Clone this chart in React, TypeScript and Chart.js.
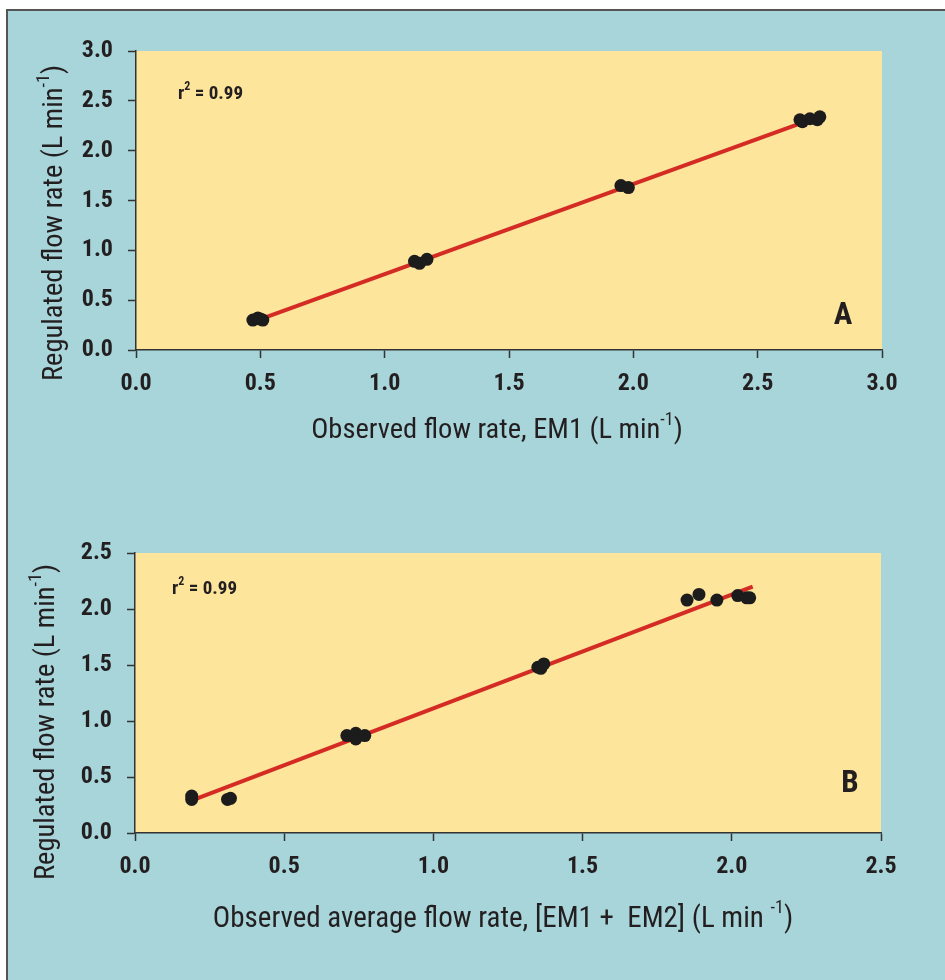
import React, { useEffect, useRef } from "react";
import { Chart, registerables } from "chart.js";

Chart.register(...registerables);

// ---------- data ----------
const obsA = [0.47, 0.49, 0.5, 0.51, 1.12, 1.14, 1.17, 1.95, 1.98, 2.67, 2.68, 2.71, 2.74, 2.75];
const regA = [0.3, 0.32, 0.31, 0.3, 0.89, 0.87, 0.91, 1.65, 1.63, 2.31, 2.29, 2.32, 2.31, 2.34];
const fitAx = [0.49, 2.7];
const fitAy = [0.3, 2.3];

const obsB = [0.19, 0.19, 0.31, 0.32, 0.71, 0.74, 0.74, 0.77, 1.35, 1.36, 1.37, 1.85, 1.89, 1.95, 2.02, 2.05, 2.06];
const regB = [0.33, 0.3, 0.3, 0.31, 0.87, 0.89, 0.84, 0.87, 1.48, 1.47, 1.51, 2.08, 2.13, 2.08, 2.12, 2.1, 2.1];
const fitBx = [0.2, 2.07];
const fitBy = [0.3, 2.2];

const axisMaxA = 3.0;
const axisMaxB = 2.5;
const tickStep = 0.5;

const r2A = "0.99";
const r2B = "0.99";

// ---------- style ----------
const FONT = '"Liberation Sans Narrow", "Roboto Condensed", "DejaVu Sans Condensed", "Arial Narrow", "Liberation Sans", sans-serif';
const TEXT = "#231f20";
const PLOT_BG = "#fde59b";
const PANEL_BG = "#a7d5da";
const LINE_RED = "#d42b25";

type Seg = { t: string; sup?: boolean };
type Item = {
  segs: Seg[];
  x: number;
  y: number;
  size: number;
  bold?: boolean;
  rotate?: boolean;
  align?: "left" | "center";
};

function drawRich(ctx: CanvasRenderingContext2D, it: Item) {
  const weight = it.bold ? "bold " : "";
  const big = `${weight}${it.size}px ${FONT}`;
  const small = `${weight}${Math.round(it.size * 0.62)}px ${FONT}`;
  let total = 0;
  const widths = it.segs.map((s) => {
    ctx.font = s.sup ? small : big;
    const w = ctx.measureText(s.t).width;
    total += w;
    return w;
  });
  ctx.save();
  ctx.translate(it.x, it.y);
  if (it.rotate) ctx.rotate(-Math.PI / 2);
  ctx.fillStyle = TEXT;
  ctx.textBaseline = "middle";
  ctx.textAlign = "left";
  let x = it.align === "left" ? 0 : -total / 2;
  it.segs.forEach((s, i) => {
    ctx.font = s.sup ? small : big;
    ctx.fillText(s.t, x, s.sup ? -it.size * 0.38 : 0);
    x += widths[i];
  });
  ctx.restore();
}

const textPlugin = {
  id: "richText",
  afterDraw(chart: any) {
    const items: Item[] = chart.options.plugins.richText?.items || [];
    const ctx = chart.ctx;
    items.forEach((it) => drawRich(ctx, it));
  },
};

const bgPlugin = {
  id: "plotBg",
  beforeDraw(chart: any) {
    const { ctx, chartArea } = chart;
    ctx.save();
    ctx.fillStyle = PLOT_BG;
    ctx.fillRect(chartArea.left, chartArea.top, chartArea.right - chartArea.left, chartArea.bottom - chartArea.top);
    ctx.restore();
  },
};

function makeConfig(opts: {
  xs: number[];
  ys: number[];
  fx: number[];
  fy: number[];
  max: number;
  yAxisW: number;
  xAxisH: number;
  padTop: number;
  padRight: number;
  items: Item[];
}): any {
  const pts = opts.xs.map((x, i) => ({ x, y: opts.ys[i] }));
  const fit = opts.fx.map((x, i) => ({ x, y: opts.fy[i] }));
  const scaleCommon = (isX: boolean) => ({
    type: "linear",
    min: 0,
    max: opts.max,
    ticks: {
      stepSize: tickStep,
      color: TEXT,
      padding: isX ? 12 : 15,
      font: { family: FONT, size: 24, weight: "bold" },
      callback: (v: number) => Number(v).toFixed(1),
    },
    grid: {
      display: true,
      drawOnChartArea: false,
      drawTicks: true,
      tickLength: 8,
      tickWidth: 1.5,
      tickColor: "#333",
    },
    border: { display: true, color: "#333", width: 1.5 },
    afterFit: (scale: any) => {
      if (isX) scale.height = opts.xAxisH;
      else scale.width = opts.yAxisW;
    },
  });
  return {
    type: "scatter",
    data: {
      datasets: [
        {
          label: "observed",
          data: pts,
          backgroundColor: "#1c1c1c",
          borderWidth: 0,
          pointRadius: 6.5,
          pointHoverRadius: 6.5,
          order: 0,
        },
        {
          label: "fit",
          data: fit,
          showLine: true,
          borderColor: LINE_RED,
          borderWidth: 4,
          pointRadius: 0,
          fill: false,
          order: 1,
        },
      ],
    },
    options: {
      animation: false,
      responsive: false,
      maintainAspectRatio: false,
      layout: { padding: { top: opts.padTop, right: opts.padRight, left: 0, bottom: 0 } },
      plugins: {
        legend: { display: false },
        tooltip: { enabled: false },
        richText: { items: opts.items },
      },
      scales: { x: scaleCommon(true), y: scaleCommon(false) },
    },
    plugins: [bgPlugin, textPlugin],
  };
}

function ChartCanvas({ top, height, config }: { top: number; height: number; config: any }) {
  const ref = useRef<HTMLCanvasElement | null>(null);
  useEffect(() => {
    if (!ref.current) return;
    const c = new Chart(ref.current, config);
    return () => c.destroy();
  }, []);
  return (
    <canvas
      ref={ref}
      width={945}
      height={height}
      style={{ position: "absolute", left: 0, top, width: 945, height }}
    />
  );
}

const supLabel = (pre: string, post: string): Seg[] => [{ t: pre }, { t: "-1", sup: true }, { t: post }];

export default function App() {
  const cfgA = makeConfig({
    xs: obsA,
    ys: regA,
    fx: fitAx,
    fy: fitAy,
    max: axisMaxA,
    yAxisW: 136,
    xAxisH: 130,
    padTop: 51,
    padRight: 63,
    items: [
      { segs: supLabel("Regulated flow rate (L min", ")"), x: 55, y: 223, size: 28.5, rotate: true },
      { segs: supLabel("Observed flow rate, EM1 (L min", ")"), x: 497, y: 431, size: 28.5 },
      { segs: [{ t: "r" }, { t: "2", sup: true }, { t: " = " + r2A }], x: 178, y: 94, size: 19, bold: true, align: "left" },
      { segs: [{ t: "A" }], x: 843, y: 316, size: 31, bold: true },
    ],
  });
  const cfgB = makeConfig({
    xs: obsB,
    ys: regB,
    fx: fitBx,
    fy: fitBy,
    max: axisMaxB,
    yAxisW: 135,
    xAxisH: 147,
    padTop: 73,
    padRight: 64,
    items: [
      { segs: supLabel("Regulated flow rate (L min", ")"), x: 47, y: 242, size: 28.5, rotate: true },
      { segs: supLabel("Observed average flow rate, [EM1 +  EM2] (L min ", ")"), x: 503, y: 440, size: 29 },
      { segs: [{ t: "r" }, { t: "2", sup: true }, { t: " = " + r2B }], x: 172, y: 109, size: 19, bold: true, align: "left" },
      { segs: [{ t: "B" }], x: 850, y: 304, size: 31, bold: true },
    ],
  });
  return (
    <div style={{ position: "absolute", left: 0, top: 0, width: 945, height: 980, background: "#ffffff", overflow: "hidden" }}>
      <div
        style={{
          position: "absolute",
          left: 6,
          top: 9,
          right: 0,
          bottom: 0,
          background: PANEL_BG,
          borderTop: "2px solid #555",
          borderLeft: "2px solid #555",
        }}
      />
      <ChartCanvas top={0} height={480} config={cfgA} />
      <ChartCanvas top={480} height={500} config={cfgB} />
    </div>
  );
}
